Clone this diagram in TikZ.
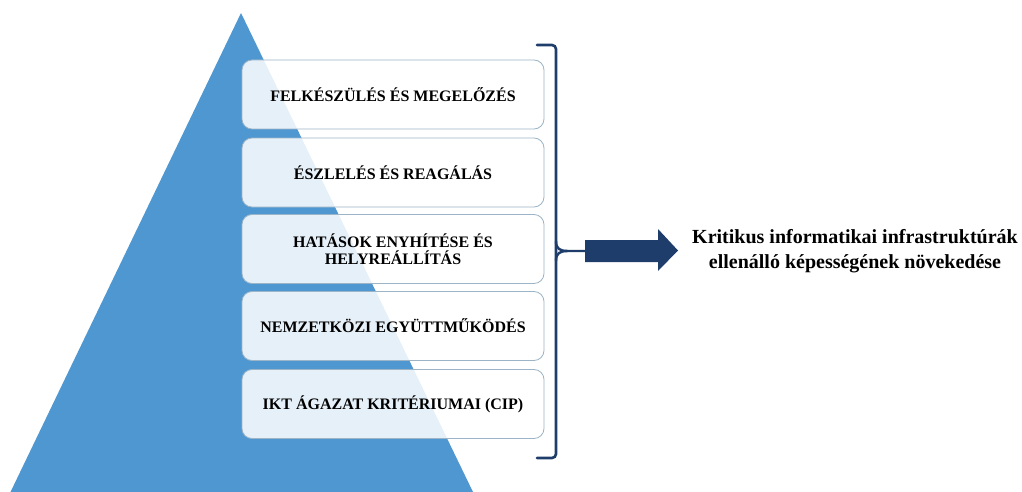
\documentclass[tikz,border=0pt]{standalone}
\usepackage{fontspec}
\setmainfont{Liberation Serif}
\begin{document}
\begin{tikzpicture}[x=1pt,y=-1pt,
  level/.style={draw=boxline, line width=0.8pt, fill=white, fill opacity=0.86, text opacity=1,
    rounded corners=10pt, minimum width=302pt, minimum height=69pt, align=center,
    font=\fontsize{16}{17}\selectfont\bfseries, inner sep=2pt},
  bracel/.style={draw=navy, line width=2.6pt, line cap=round},
  goal/.style={align=center, font=\fontsize{20}{25}\selectfont\bfseries}]
\definecolor{tri}{HTML}{4F97D1}
\definecolor{boxline}{HTML}{9CB4C6}
\definecolor{navy}{HTML}{1F3D6B}
\useasboundingbox (0,0) rectangle (1022,492);
\clip (0,0) rectangle (1022,492);
\fill[tri] (241,13) -- (10.5,492) -- (473,492) -- cycle;
\node[level] (b1) at (393,94.5) {FELKÉSZÜLÉS ÉS MEGELŐZÉS};
\node[level] (b2) at (393,172.5) {ÉSZLELÉS ÉS REAGÁLÁS};
\node[level] (b3) at (393,249) {HATÁSOK ENYHÍTÉSE ÉS\\HELYREÁLLÍTÁS};
\node[level] (b4) at (393,326) {NEMZETKÖZI EGYÜTTMŰKÖDÉS};
\node[level] (b5) at (393,404) {IKT ÁGAZAT KRITÉRIUMAI (CIP)};
\coordinate (bt) at (537,45);
\coordinate (bb) at (537,458);
\coordinate (tip) at (585,251);
\draw[bracel, rounded corners=4pt] (bt) -- (556,45) -- (556,458) -- (bb);
\draw[navy, line width=2.4pt] (556,241) .. controls (556,249) and (560,251) .. (568,251) -- (tip);
\draw[navy, line width=2.4pt] (556,261) .. controls (556,253) and (560,251) .. (568,251);
\fill[navy] (tip) ++(0,-11) -- (658,240) -- (658,229) -- (678,250.5) -- (658,271) -- (658,262) -- (585,262) -- cycle;
\node[goal] (g) at (855,251) {Kritikus informatikai infrastruktúrák\\ellenálló képességének növekedése};
\end{tikzpicture}
\end{document}
